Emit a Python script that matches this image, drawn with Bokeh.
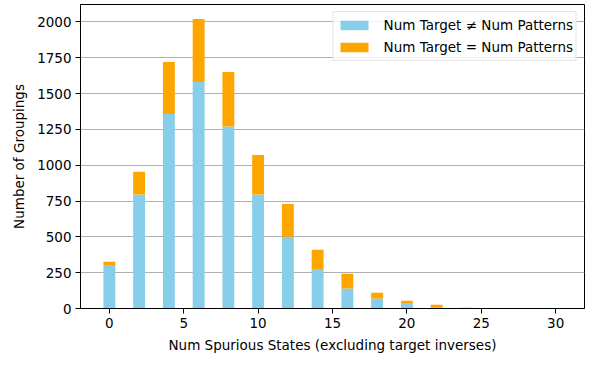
from bokeh.plotting import figure
from bokeh.models import ColumnDataSource, Range1d, FixedTicker
from bokeh.embed import file_html
from bokeh.resources import INLINE

# Data
spurious_states = [0, 2, 4, 6, 8, 10, 12, 14, 16, 18, 20, 22, 24, 26, 28, 30]
target_ne_patterns = [298, 795, 1358, 1581, 1270, 795, 500, 270, 140, 70, 33, 5, 1, 4, 0, 0]
target_eq_patterns = [28, 159, 363, 440, 381, 277, 230, 140, 102, 40, 21, 21, 4, 0, 0, 0]
x_ticks = [0, 5, 10, 15, 20, 25, 30]
y_ticks = [0, 250, 500, 750, 1000, 1250, 1500, 1750, 2000]

source = ColumnDataSource(dict(x=spurious_states, ne=target_ne_patterns, eq=target_eq_patterns))

FONT = "DejaVu Sans"

p = figure(width=599, height=366, output_backend="svg", toolbar_location=None,
           x_range=Range1d(-1.94, 31.94), y_range=Range1d(0, 2122),
           min_border_left=80, min_border_right=15, min_border_top=4, min_border_bottom=58)

r = p.vbar_stack(["ne", "eq"], x="x", width=0.8, source=source,
                 color=["#87CEEB", "#FFA500"], line_width=0,
                 legend_label=["Num Target \u2260 Num Patterns", "Num Target = Num Patterns"])

p.xaxis.ticker = FixedTicker(ticks=x_ticks)
p.yaxis.ticker = FixedTicker(ticks=y_ticks)
p.xaxis.axis_label = "Num Spurious States (excluding target inverses)"
p.yaxis.axis_label = "Number of Groupings"

for ax in (p.xaxis, p.yaxis):
    ax.axis_label_text_font = FONT
    ax.axis_label_text_font_style = "normal"
    ax.axis_label_text_font_size = "13.5px"
    ax.axis_label_text_color = "black"
    ax.major_label_text_font = FONT
    ax.major_label_text_font_size = "13.5px"
    ax.major_label_text_color = "black"
    ax.axis_line_color = "black"
    ax.major_tick_line_color = "black"
    ax.major_tick_in = 0
    ax.major_tick_out = 5
    ax.major_label_standoff = 4
    ax.minor_tick_line_color = None
p.xaxis.axis_label_standoff = 6
p.yaxis.axis_label_standoff = 7

p.xgrid.grid_line_color = None
p.ygrid.grid_line_color = "#b0b0b0"
p.ygrid.grid_line_width = 1

p.outline_line_color = "black"
p.outline_line_width = 1
p.background_fill_color = "white"
p.border_fill_color = "white"

lg = p.legend[0]
lg.location = "top_right"
lg.margin = 7
lg.padding = 3
lg.spacing = 2
lg.glyph_width = 35
lg.glyph_height = 12
lg.label_height = 20
lg.label_standoff = 12
lg.label_text_font = FONT
lg.label_text_font_size = "13.5px"
lg.label_text_color = "black"
lg.border_line_color = "#cccccc"
lg.border_line_width = 1
lg.background_fill_alpha = 0.8

open("out.html", "w").write(file_html(p, INLINE))
